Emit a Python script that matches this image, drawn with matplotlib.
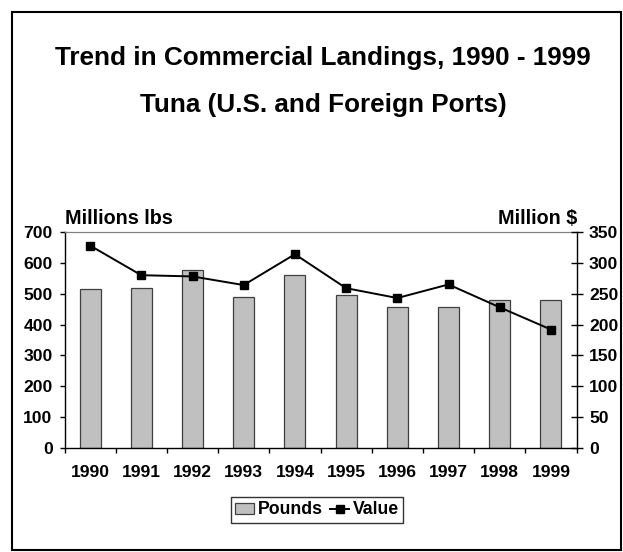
import numpy as np
import matplotlib.pyplot as plt
from matplotlib import font_manager as fm
from matplotlib.patches import Rectangle

years  = ['1990', '1991', '1992', '1993', '1994', '1995', '1996', '1997', '1998', '1999']
pounds = [514, 519, 578, 488, 560, 495, 456, 456, 480, 480]
value  = [328, 280, 278, 264, 314, 259, 243, 265, 228, 192]

# pick the regular-width Liberation Sans Bold (not Narrow)
bold_file = None
for f in fm.fontManager.ttflist:
    if f.name == 'Liberation Sans' and f.weight in (700, 'bold') and 'Narrow' not in f.fname \
            and f.style == 'normal':
        bold_file = f.fname
        break

def fp(size):
    if bold_file:
        return fm.FontProperties(fname=bold_file, size=size)
    return fm.FontProperties(family='DejaVu Sans', weight='bold', size=size)

W, H = 623, 552
fig = plt.figure(figsize=(W/100, H/100), dpi=100)
fig.patches.append(Rectangle((12/W, 2/H), (621-12)/W, (540-2)/H, transform=fig.transFigure,
                             fill=False, edgecolor='black', lw=1.5))

ax = fig.add_axes([64.5/W, 1-448/H, (576.5-64.5)/W, (448-232)/H])
x = np.arange(len(years))
ax.bar(x, pounds, width=0.41, color='#c0c0c0', edgecolor='#404040', lw=0.9, label='Pounds', zorder=2)
ax.set_xlim(-0.5, len(years)-0.5)
ax.set_ylim(0, 700)
ax.set_yticks(range(0, 701, 100))
ax.set_xticks(x)
ax.set_xticklabels(years)
ax.set_xticks(np.arange(-0.5, len(years)), minor=True)
ax.tick_params(axis='x', which='major', length=0, pad=12.5)
ax.tick_params(axis='x', which='minor', length=3.3, width=1.0, direction='out')
ax.tick_params(axis='y', length=3.6, width=1.0, direction='out', pad=5)
for s in ['left', 'bottom']:
    ax.spines[s].set_linewidth(1.0)
ax.spines['top'].set_color('#808080')
ax.spines['top'].set_linewidth(0.9)
ax.spines['right'].set_visible(False)

ax2 = ax.twinx()
ax2.plot(x, value, color='black', lw=1.4, marker='s', markersize=5.5, label='Value', zorder=3)
ax2.set_ylim(0, 350)
ax2.set_yticks(range(0, 351, 50))
ax2.tick_params(axis='y', length=8, width=1.0, direction='inout', pad=5)
ax2.spines['right'].set_linewidth(1.0)
for s in ['left', 'top', 'bottom']:
    ax2.spines[s].set_visible(False)

for lab in ax.get_xticklabels() + ax.get_yticklabels() + ax2.get_yticklabels():
    lab.set_fontproperties(fp(12.6))

fig.text(323/W, 1-58/H, 'Trend in Commercial Landings, 1990 - 1999', ha='center', va='center',
         fontproperties=fp(18.8))
fig.text(323/W, 1-105/H, 'Tuna (U.S. and Foreign Ports)', ha='center', va='center',
         fontproperties=fp(18.8))
fig.text(65/W, 1-218/H, 'Millions lbs', ha='left', va='center', fontproperties=fp(14.2))
fig.text(577/W, 1-218/H, 'Million $', ha='right', va='center', fontproperties=fp(14.2))

h1, l1 = ax.get_legend_handles_labels()
h2, l2 = ax2.get_legend_handles_labels()
leg = fig.legend(h1+h2, l1+l2, loc='center', bbox_to_anchor=(317/W, 1-510/H), ncol=2,
                 frameon=True, fancybox=False, edgecolor='black', prop=fp(12.7),
                 handlelength=1.1, handleheight=0.6, handletextpad=0.2, columnspacing=0.4,
                 borderpad=0.25, borderaxespad=0)
leg.get_frame().set_linewidth(1)

fig.savefig('out.png', dpi=100)
